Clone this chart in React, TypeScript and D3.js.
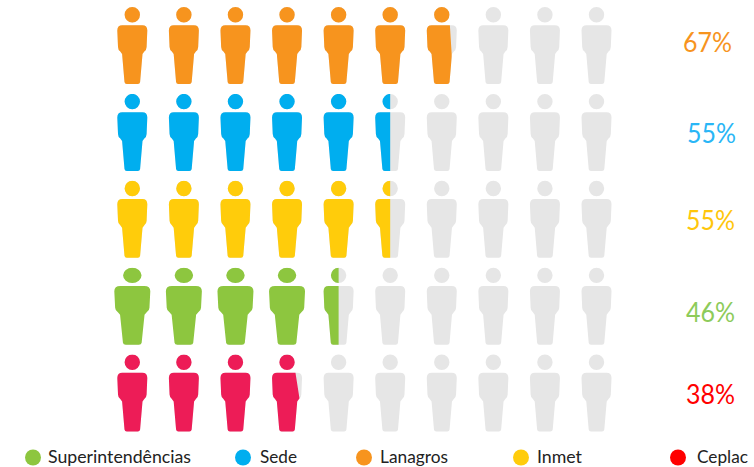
import * as d3 from "d3";
import React from "react";

const rowNames = ["Lanagros", "Sede", "Inmet", "Superintendências", "Ceplac"];
const percents = [67, 55, 55, 46, 38];
// how many figures are coloured in each row
const iconsFilled = [6.77, 5.5, 5.5, 4.5, 3.78];
const edgeSlant = [2, 0, 0, 0, 5];
const iconColors = ["#F7941E", "#00AEEF", "#FFCC0B", "#8DC63F", "#ED1C57"];
const labelColors = ["#F7941E", "#29B6F6", "#FFC60B", "#8DCB5A", "#FF0000"];
const labelX = [683, 687, 686, 686, 686];
const labelY = [52, 143, 230, 322, 404];
const legendNames = ["Superintendências", "Sede", "Lanagros", "Inmet", "Ceplac"];
const legendColors = ["#8DC63F", "#00AEEF", "#F7941E", "#FFCC0B", "#FF0000"];
const legendDots = [33, 243, 364, 521, 678];
const legendLabelX = [48, 260, 380, 537, 697];
const legendLabelW = [143, 37, 68, 45, 51];
const columns = d3.range(10);

const W = 754;
const H = 467;
const GREY = "#E6E6E6";
const ICON_W = 30;
const ROW_TOP = 7;

const x = d3.scalePoint<number>().domain(columns).range([132.3, 596.5]);
const y = d3.scalePoint<string>().domain(rowNames).range([ROW_TOP, ROW_TOP + 347.5]);

// one figure, centred on x = 0 with the top of the head at y = 0
function personPath() {
  const p = d3.path();
  p.moveTo(-10, 18.3);
  p.lineTo(10, 18.3);
  p.quadraticCurveTo(15, 18.3, 15, 23.5);
  p.lineTo(14.3, 40);
  p.quadraticCurveTo(14.2, 43, 12, 44.5);
  p.lineTo(10.2, 47);
  p.lineTo(7.8, 75);
  p.quadraticCurveTo(7.5, 77, 5.5, 77);
  p.lineTo(-5.5, 77);
  p.quadraticCurveTo(-7.5, 77, -7.8, 75);
  p.lineTo(-10.2, 47);
  p.lineTo(-12, 44.5);
  p.quadraticCurveTo(-14.2, 43, -14.3, 40);
  p.lineTo(-15, 23.5);
  p.quadraticCurveTo(-15, 18.3, -10, 18.3);
  p.closePath();
  p.moveTo(7.7, 7.7);
  p.arc(0, 7.7, 7.7, 0, Math.PI * 2);
  p.closePath();
  return p.toString();
}

const person = personPath();

export default function App() {
  return (
    <svg width={W} height={H} style={{ position: "absolute", left: 0, top: 0 }} fontFamily="Lato, 'Open Sans', sans-serif">
      <rect width={W} height={H} fill="#fff" />
      <defs>
        {rowNames.map((name, r) => {
          const whole = Math.floor(iconsFilled[r]);
          const edge = x(whole)! - ICON_W / 2 + (iconsFilled[r] - whole) * ICON_W;
          const top = y(name)!;
          const pts = [
            [0, top],
            [edge, top + 18],
            [edge + edgeSlant[r], top + 50],
            [edge + edgeSlant[r], top + 80],
            [0, top + 80],
          ];
          return (
            <clipPath id={`fill-${r}`} key={name}>
              <rect x={0} y={top} width={edge} height={18} />
              <polygon points={pts.map(q => q.join(",")).join(" ")} />
            </clipPath>
          );
        })}
      </defs>
      {rowNames.map(name => (
        <g key={name} transform={`translate(0,${y(name)})`}>
          {columns.map(c => (
            <path key={c} d={person} transform={`translate(${x(c)},0)`} fill={GREY} />
          ))}
        </g>
      ))}
      {rowNames.map((name, r) => (
        <g key={name} clipPath={`url(#fill-${r})`}>
          <g transform={`translate(0,${y(name)})`}>
            {columns.map(c => {
              // the fully coloured green figures are drawn wider than the rest
              const wide = name === "Superintendências" && c < Math.floor(iconsFilled[r]);
              return (
                <path
                  key={c}
                  d={person}
                  transform={`translate(${x(c)},0)${wide ? " scale(1.2,1)" : ""}`}
                  fill={iconColors[r]}
                />
              );
            })}
          </g>
        </g>
      ))}
      {rowNames.map((name, r) => (
        <text
          key={name}
          x={labelX[r]}
          y={labelY[r]}
          fontSize={27}
          textLength={49}
          lengthAdjust="spacingAndGlyphs"
          fill={labelColors[r]}
        >
          {`${percents[r]}%`}
        </text>
      ))}
      {legendNames.map((name, i) => (
        <g key={name}>
          <circle cx={legendDots[i]} cy={457.5} r={8} fill={legendColors[i]} />
          <text
            x={legendLabelX[i]}
            y={462.5}
            fontSize={16.5}
            textLength={legendLabelW[i]}
            lengthAdjust="spacingAndGlyphs"
            fill="#222"
          >
            {name}
          </text>
        </g>
      ))}
    </svg>
  );
}
